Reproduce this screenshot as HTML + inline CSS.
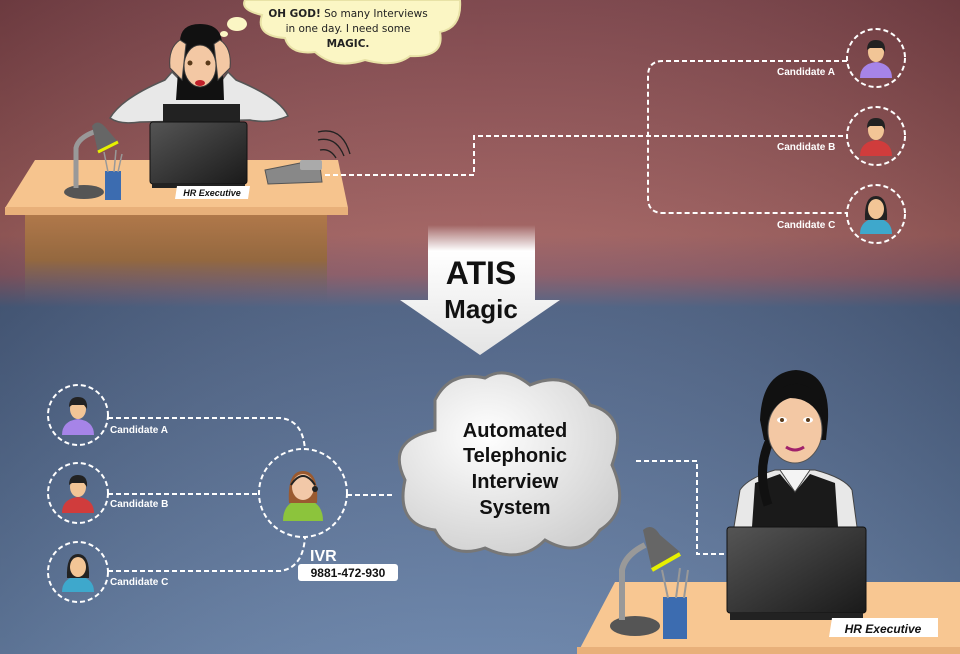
<!DOCTYPE html>
<html><head><meta charset="utf-8"><style>
html,body{margin:0;padding:0;width:960px;height:654px;overflow:hidden}
svg{display:block;font-family:"Liberation Sans",sans-serif}
</style></head><body>
<svg width="960" height="654" viewBox="0 0 960 654" xmlns="http://www.w3.org/2000/svg">
<defs>
<linearGradient id="bg" x1="0" y1="0" x2="0" y2="1">
<stop offset="0" stop-color="#7a4248"/><stop offset="0.36" stop-color="#a0605f"/><stop offset="0.42" stop-color="#8a5a66"/><stop offset="0.47" stop-color="#4c6082"/><stop offset="1" stop-color="#6882a8"/>
</linearGradient>
<linearGradient id="bgx" x1="0" y1="0" x2="1" y2="0">
<stop offset="0" stop-color="#000" stop-opacity="0.12"/><stop offset="0.5" stop-color="#fff" stop-opacity="0.04"/><stop offset="1" stop-color="#000" stop-opacity="0.12"/>
</linearGradient>
<linearGradient id="desk" x1="0" y1="0" x2="0" y2="1">
<stop offset="0" stop-color="#b0784a"/><stop offset="0.5" stop-color="#94683f"/><stop offset="1" stop-color="#4c6082" stop-opacity="0"/>
</linearGradient>
<linearGradient id="arr" x1="0" y1="0" x2="0" y2="1">
<stop offset="0" stop-color="#fff" stop-opacity="0"/><stop offset="0.2" stop-color="#fff"/><stop offset="1" stop-color="#e4e4e4"/>
</linearGradient>
<radialGradient id="cl" cx="0.4" cy="0.35" r="0.7">
<stop offset="0" stop-color="#fff"/><stop offset="1" stop-color="#d0d0d0"/>
</radialGradient>
<linearGradient id="lap" x1="0" y1="0" x2="1" y2="1">
<stop offset="0" stop-color="#555"/><stop offset="1" stop-color="#1a1a1a"/>
</linearGradient>
</defs>
<rect width="960" height="654" fill="url(#bg)"/>
<rect width="960" height="654" fill="url(#bgx)"/>

<!-- TOP DESK -->
<rect x="25" y="215" width="302" height="90" fill="url(#desk)"/>
<polygon points="35,160 338,160 348,208 5,208" fill="#f6c48e"/>
<rect x="5" y="207" width="343" height="8" fill="#e8b07a"/>
<!-- top woman -->
<path d="M110,118 Q122,98 165,80 L172,72 L180,80 L222,80 L228,72 L236,80 Q280,98 288,116 Q270,124 250,120 L140,122 Q120,125 110,118Z" fill="#e8e8e8" stroke="#555" stroke-width="1.5"/>
<path d="M163,104 L240,104 L240,125 L163,125Z" fill="#222"/>
<path d="M180,42 Q180,24 200,24 Q222,24 222,45 L224,100 L176,100Z" fill="#111"/>
<ellipse cx="200" cy="66" rx="16" ry="21" fill="#f3c8a4" stroke="#333" stroke-width="1"/>
<ellipse cx="200" cy="83" rx="5" ry="3" fill="#c0202a"/>
<path d="M180,40 Q168,48 170,68 L182,80 L186,44Z M220,40 Q232,48 230,68 L218,80 L214,44Z" fill="#f3c8a4" stroke="#444" stroke-width="1"/>
<circle cx="190" cy="63" r="2.5" fill="#5a3a1a"/><circle cx="208" cy="63" r="2.5" fill="#5a3a1a"/>
<!-- laptop -->
<rect x="150" y="122" width="97" height="62" rx="3" fill="url(#lap)" stroke="#111"/>
<rect x="152" y="184" width="93" height="4" fill="#222"/>
<polygon points="177,186 250,186 248,199 175,199" fill="#fff"/>
<text x="212" y="196" font-size="9" font-weight="bold" font-style="italic" text-anchor="middle" fill="#111">HR Executive</text>
<!-- lamp -->
<ellipse cx="84" cy="192" rx="20" ry="7" fill="#555"/>
<path d="M76,188 L76,148 Q78,138 94,132" stroke="#999" stroke-width="5" fill="none"/>
<path d="M92,126 Q98,118 106,128 L118,142 L98,152Z" fill="#666"/>
<path d="M98,152 L118,142" stroke="#e6f000" stroke-width="3"/>
<rect x="105" y="171" width="16" height="29" fill="#3c6cb0"/>
<path d="M108,172 L104,152 M114,172 L116,150 M118,172 L122,154" stroke="#999" stroke-width="1.5"/>
<!-- phone -->
<path d="M265,170 L300,163 L320,166 L322,182 L268,184Z" fill="#888" stroke="#555"/>
<rect x="300" y="160" width="22" height="10" rx="2" fill="#aaa"/>
<path d="M320,150 Q330,148 336,158 M318,140 Q336,136 344,156 M318,132 Q342,126 350,154" stroke="#222" stroke-width="1.3" fill="none"/>
<!-- thought bubble -->
<path d="M245,0 L460,0 Q462,28 440,32 Q445,58 410,56 Q395,68 365,60 Q335,70 315,52 Q290,55 285,38 Q255,36 262,15 Q240,10 245,0Z" fill="#fbf6c4" stroke="#e8e2a6" stroke-width="2"/>
<ellipse cx="237" cy="24" rx="10" ry="7" fill="#fbf6c4"/>
<ellipse cx="224" cy="34" rx="4" ry="3" fill="#fbf6c4"/>
<g font-family="'DejaVu Sans',sans-serif" font-size="10.5" fill="#222" text-anchor="middle">
<text x="348" y="17"><tspan font-weight="bold">OH GOD!</tspan> So many Interviews</text>
<text x="348" y="32">in one day. I need some</text>
<text x="348" y="47" font-weight="bold">MAGIC.</text></g>

<!-- connectors -->
<g stroke="#fff" stroke-width="2" stroke-dasharray="5,3" fill="none">
<path d="M325,175 L474,175 L474,136 L847,136"/>
<path d="M847,61 L663,61 Q648,61 648,76 L648,198 Q648,213 663,213 L847,213"/>
<circle cx="876" cy="58" r="29"/><circle cx="876" cy="136" r="29"/><circle cx="876" cy="214" r="29"/>
<circle cx="78" cy="415" r="30"/><circle cx="78" cy="493" r="30"/><circle cx="78" cy="572" r="30"/>
<circle cx="303" cy="493" r="44"/>
<path d="M108,418 L280,418 Q303,420 305,450"/>
<path d="M108,494 L259,494"/>
<path d="M108,571 L280,571 Q303,568 305,537"/>
<path d="M347,495 L393,495"/>
<path d="M636,461 L697,461 L697,554 L727,554"/>
</g>
<g font-size="10" font-weight="bold" fill="#fff">
<text x="777" y="75">Candidate A</text><text x="777" y="150">Candidate B</text><text x="777" y="228">Candidate C</text>
<text x="110" y="433">Candidate A</text><text x="110" y="507">Candidate B</text><text x="110" y="585">Candidate C</text>
</g>
<g>
<g transform="translate(876,58)"><path d="M-16,20 Q-16,6 0,4 Q16,6 16,20Z" fill="#a684e8"/><ellipse cx="0" cy="-6" rx="8" ry="10" fill="#f2c596"/><path d="M-9,-8 Q-9,-18 0,-18 Q10,-18 9,-6 L6,-10 L-6,-10Z" fill="#222"/></g>
<g transform="translate(876,136)"><path d="M-16,20 Q-16,6 0,4 Q16,6 16,20Z" fill="#d03c3c"/><ellipse cx="0" cy="-6" rx="8" ry="10" fill="#f2c596"/><path d="M-9,-8 Q-9,-18 0,-18 Q10,-18 9,-6 L6,-10 L-6,-10Z" fill="#222"/></g>
<g transform="translate(876,214)"><path d="M-16,20 Q-16,6 0,4 Q16,6 16,20Z" fill="#3ea8cc"/><path d="M-11,6 Q-12,-18 0,-18 Q12,-18 11,6Z" fill="#222"/><ellipse cx="0" cy="-5" rx="8" ry="10" fill="#f2c596"/></g>
<g transform="translate(78,415)"><path d="M-16,20 Q-16,6 0,4 Q16,6 16,20Z" fill="#a684e8"/><ellipse cx="0" cy="-6" rx="8" ry="10" fill="#f2c596"/><path d="M-9,-8 Q-9,-18 0,-18 Q10,-18 9,-6 L6,-10 L-6,-10Z" fill="#222"/></g>
<g transform="translate(78,493)"><path d="M-16,20 Q-16,6 0,4 Q16,6 16,20Z" fill="#d03c3c"/><ellipse cx="0" cy="-6" rx="8" ry="10" fill="#f2c596"/><path d="M-9,-8 Q-9,-18 0,-18 Q10,-18 9,-6 L6,-10 L-6,-10Z" fill="#222"/></g>
<g transform="translate(78,572)"><path d="M-16,20 Q-16,6 0,4 Q16,6 16,20Z" fill="#3ea8cc"/><path d="M-11,6 Q-12,-18 0,-18 Q12,-18 11,6Z" fill="#222"/><ellipse cx="0" cy="-5" rx="8" ry="10" fill="#f2c596"/></g>
<g transform="translate(303,493)"><path d="M-20,28 Q-20,8 0,6 Q20,8 20,28Z" fill="#8cc43c"/><path d="M-14,10 Q-16,-22 0,-22 Q16,-22 14,10Z" fill="#9a5a30"/><ellipse cx="0" cy="-6" rx="11" ry="13" fill="#f2c8a8"/><path d="M-12,-8 Q0,-26 12,-8" stroke="#222" stroke-width="2" fill="none"/><circle cx="12" cy="-4" r="3" fill="#222"/></g>
</g>
<text x="310" y="561" font-size="16" font-weight="bold" fill="#fff">IVR</text>
<rect x="298" y="564" width="100" height="17" rx="3" fill="#fff"/>
<text x="348" y="577" font-size="12" font-weight="bold" text-anchor="middle" fill="#111">9881-472-930</text>

<!-- arrow -->
<path d="M428,225 L535,225 L535,300 L560,300 L480,355 L400,300 L428,300Z" fill="url(#arr)"/>
<text x="481" y="284" font-size="32" font-weight="bold" text-anchor="middle" fill="#111">ATIS</text>
<text x="481" y="318" font-size="26" font-weight="bold" text-anchor="middle" fill="#111">Magic</text>

<!-- cloud -->
<path d="M435,400 Q450,370 485,378 Q505,365 530,385 Q570,368 590,405 Q630,415 612,465 Q632,510 600,530 Q580,560 545,540 Q520,565 485,548 Q450,560 435,530 Q395,525 405,480 Q385,440 435,430Z" fill="url(#cl)" stroke="#777" stroke-width="3"/>
<g font-size="20" font-weight="bold" text-anchor="middle" fill="#111">
<text x="515" y="437">Automated</text><text x="515" y="462">Telephonic</text><text x="515" y="488">Interview</text><text x="515" y="514">System</text></g>

<!-- bottom right woman -->
<path d="M734,527 L740,490 Q748,478 775,470 L815,470 Q845,478 852,490 L857,527Z" fill="#e8e8e8" stroke="#444"/>
<path d="M752,527 L755,483 L780,474 L795,492 L810,474 L835,483 L838,527Z" fill="#1a1a1a"/>
<path d="M780,470 L795,492 L810,470" fill="#f4f4f4" stroke="#444"/>
<path d="M760,420 Q762,372 796,370 Q830,372 828,420 L826,440 L764,440Z" fill="#111"/>
<path d="M770,440 Q756,470 768,505" stroke="#111" stroke-width="9" fill="none"/>
<ellipse cx="795" cy="430" rx="27" ry="33" fill="#f3c8a4" stroke="#555"/>
<path d="M768,420 Q772,382 800,384 Q824,390 822,420 Q812,398 790,398 Q775,402 768,420Z" fill="#111"/>
<ellipse cx="782" cy="420" rx="5" ry="3" fill="#fff"/><circle cx="782" cy="420" r="2" fill="#5a3a1a"/>
<ellipse cx="808" cy="420" rx="5" ry="3" fill="#fff"/><circle cx="808" cy="420" r="2" fill="#5a3a1a"/>
<path d="M786,447 Q795,453 804,447" stroke="#a0206a" stroke-width="3" fill="none"/>
<polygon points="615,582 960,582 960,654 577,654" fill="#f8c792"/>
<rect x="577" y="647" width="383" height="7" fill="#e8b07a"/>
<rect x="727" y="527" width="139" height="86" rx="3" fill="url(#lap)" stroke="#111"/>
<rect x="730" y="613" width="133" height="7" fill="#222"/>
<polygon points="832,618 938,618 938,637 829,637" fill="#fff"/>
<text x="883" y="633" font-size="12" font-weight="bold" font-style="italic" text-anchor="middle" fill="#111">HR Executive</text>
<ellipse cx="635" cy="626" rx="25" ry="10" fill="#555"/>
<path d="M622,620 L622,570 Q625,555 645,545" stroke="#999" stroke-width="6" fill="none"/>
<path d="M643,530 Q652,522 660,535 L680,552 L652,570Z" fill="#666"/>
<path d="M652,570 L680,554" stroke="#e6f000" stroke-width="4"/>
<rect x="663" y="597" width="24" height="42" fill="#3c6cb0"/>
<path d="M668,598 L662,570 M676,598 L680,568 M684,598 L688,570" stroke="#999" stroke-width="2"/>
</svg>
</body></html>
